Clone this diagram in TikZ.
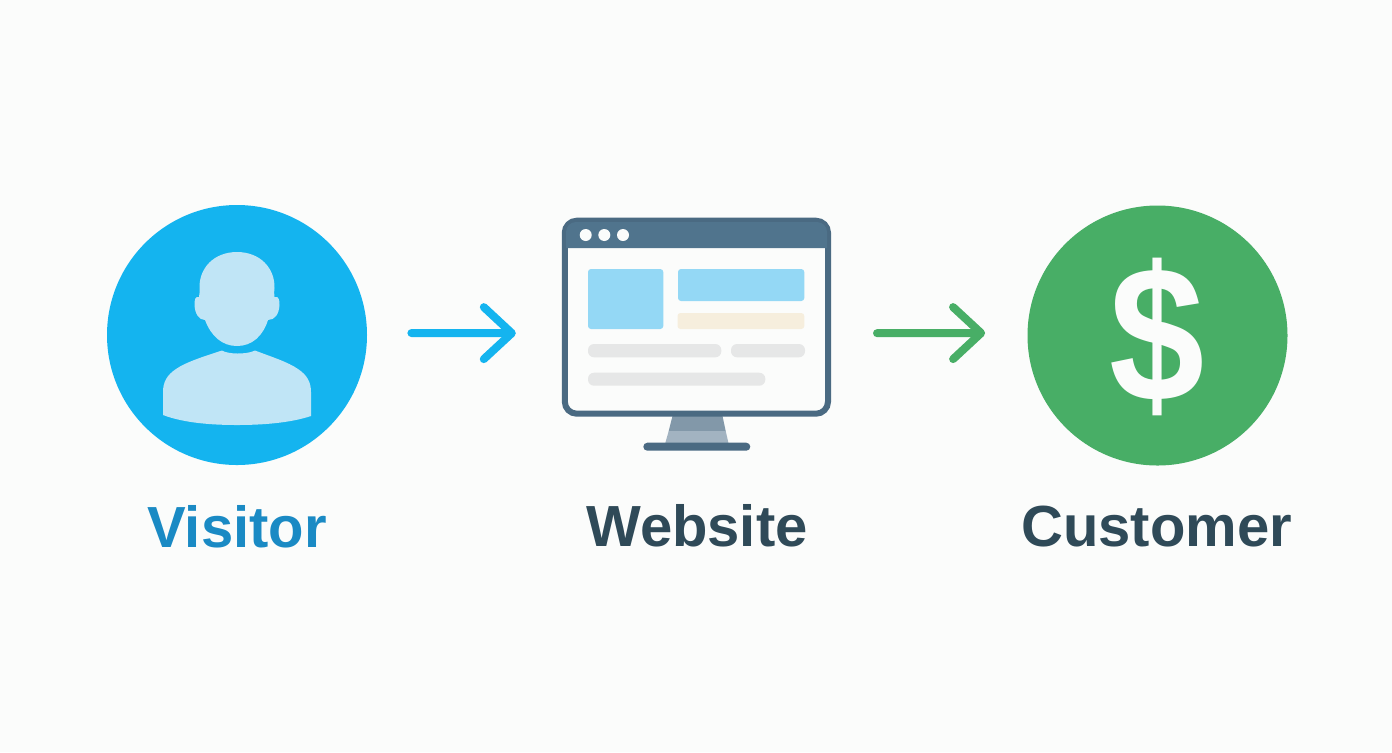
\documentclass[tikz,border=0pt]{standalone}
\usepackage{fontspec}
\setmainfont{Liberation Sans}
\usepackage{graphicx}
\usepackage{xcolor}
\definecolor{pagewhite}{HTML}{FBFCFB}
\definecolor{visitorblue}{HTML}{14B4EF}
\definecolor{personblue}{HTML}{C0E5F6}
\definecolor{labelblue}{HTML}{1A8AC4}
\definecolor{labeldark}{HTML}{2F4A58}
\definecolor{customergreen}{HTML}{48AE66}
\definecolor{framedark}{HTML}{4A6A82}
\definecolor{barblue}{HTML}{50748D}
\definecolor{panelblue}{HTML}{94D8F5}
\definecolor{panelcream}{HTML}{F6EEDD}
\definecolor{panelgrey}{HTML}{E6E7E7}
\definecolor{standdark}{HTML}{8298A9}
\definecolor{standlight}{HTML}{A2B3C1}
\usetikzlibrary{arrows.meta}
\tikzset{
  badge/.style={circle,minimum size=130pt,inner sep=0pt,fill=#1},
  caption/.style={anchor=base,font=\bfseries\fontsize{29}{32}\selectfont,text=#1},
  flow/.style={draw=#1,line width=4pt,line cap=round,
    -{Straight Barb[length=14pt,width=26pt,round]}},
  panel/.style={fill=#1,rounded corners=1.5pt},
  windowdot/.style={circle,fill=pagewhite,minimum size=6pt,inner sep=0pt},
}
\begin{document}
\begin{tikzpicture}[x=0.5pt,y=-0.5pt]
	\useasboundingbox (0,0) rectangle (1392,752);
	\fill[pagewhite] (0,0) rectangle (1392,752);
	% visitor
	\node[badge=visitorblue] (visitor) at (237,335) {};
	\fill[personblue] (237,252) .. controls (214,252) and (199,268) .. (199.5,288)
		.. controls (199.5,291) and (200,294) .. (199,297)
		.. controls (195,296) and (194.5,300) .. (194.5,305)
		.. controls (195,314) and (199,320) .. (205,320)
		.. controls (211,336) and (222,346) .. (237,346)
		.. controls (252,346) and (263,336) .. (268,320)
		.. controls (275,320) and (279,314) .. (279.5,305)
		.. controls (279.5,300) and (279,296) .. (274.5,297)
		.. controls (273.5,294) and (274.5,291) .. (274.5,288)
		.. controls (275,268) and (260,252) .. (237,252) -- cycle;
	\fill[personblue] (222,350.5) .. controls (227,354) and (246,355) .. (255,350.5)
		.. controls (272,357) and (288,362) .. (298,369)
		.. controls (307,375) and (311,382) .. (311,392)
		-- (311,416) .. controls (290,423) and (262,425) .. (237,425)
		.. controls (212,425) and (184,423) .. (163,415)
		-- (163,392) .. controls (163,382) and (167,375) .. (176,369)
		.. controls (186,362) and (205,356) .. (222,350.5) -- cycle;
	\node[caption=labelblue] (visitorlabel) at (237,547) {Visitor};
	% website
	\fill[standdark] (672.5,416) -- (722.5,416) -- (725.7,431) -- (668.7,431) -- cycle;
	\fill[standlight] (668.7,431) -- (725.7,431) -- (728.7,444) -- (665,444) -- cycle;
	\node[fill=framedark,rounded corners=2pt,minimum width=53.5pt,minimum height=4pt,inner sep=0pt] (stand) at (696.8,446.7) {};
	\node[draw=framedark,fill=pagewhite,line width=3pt,rounded corners=6pt,minimum width=131.6pt,minimum height=96.5pt,inner sep=0pt] (screen) at (696.4,317.2) {};
	\fill[barblue] (566,248) [rounded corners=5pt] -- (566,222) -- (827,222) [sharp corners] -- (827,248) -- cycle;
	\node[windowdot] (dota) at (585.7,235) {};
	\node[windowdot] (dotb) at (604.3,235) {};
	\node[windowdot] (dotc) at (623,235) {};
	\fill[panel=panelblue] (588,269) rectangle (663.3,329);
	\fill[panel=panelblue] (678,269) rectangle (804.3,301);
	\fill[panel=panelcream] (677.5,313) rectangle (804.3,329);
	\fill[panel=panelgrey,rounded corners=3pt] (588,344) rectangle (721.3,357.3);
	\fill[panel=panelgrey,rounded corners=3pt] (731,344) rectangle (805,357.3);
	\fill[panel=panelgrey,rounded corners=3pt] (588,372.7) rectangle (765.3,385.7);
	\node[caption=labeldark] (websitelabel) at (697,546) {Website};
	% customer
	\node[badge=customergreen] (customer) at (1157.5,335.5) {};
	\node[text=pagewhite,font=\bfseries\fontsize{92}{92}\selectfont,inner sep=0pt] (dollar) at (1157,337) {\scalebox{0.93}[1.05]{\$}};
	\node[caption=labeldark] (customerlabel) at (1156.5,546) {Customer};
	% arrows
	\draw[flow=visitorblue,shorten <=22pt,shorten >=23pt] ([yshift=1pt]visitor.east) -- ([yshift=-8pt]screen.west);
	\draw[flow=customergreen,shorten <=23pt,shorten >=21pt] ([yshift=-8pt]screen.east) -- ([yshift=1.25pt]customer.west);
\end{tikzpicture}
\end{document}
